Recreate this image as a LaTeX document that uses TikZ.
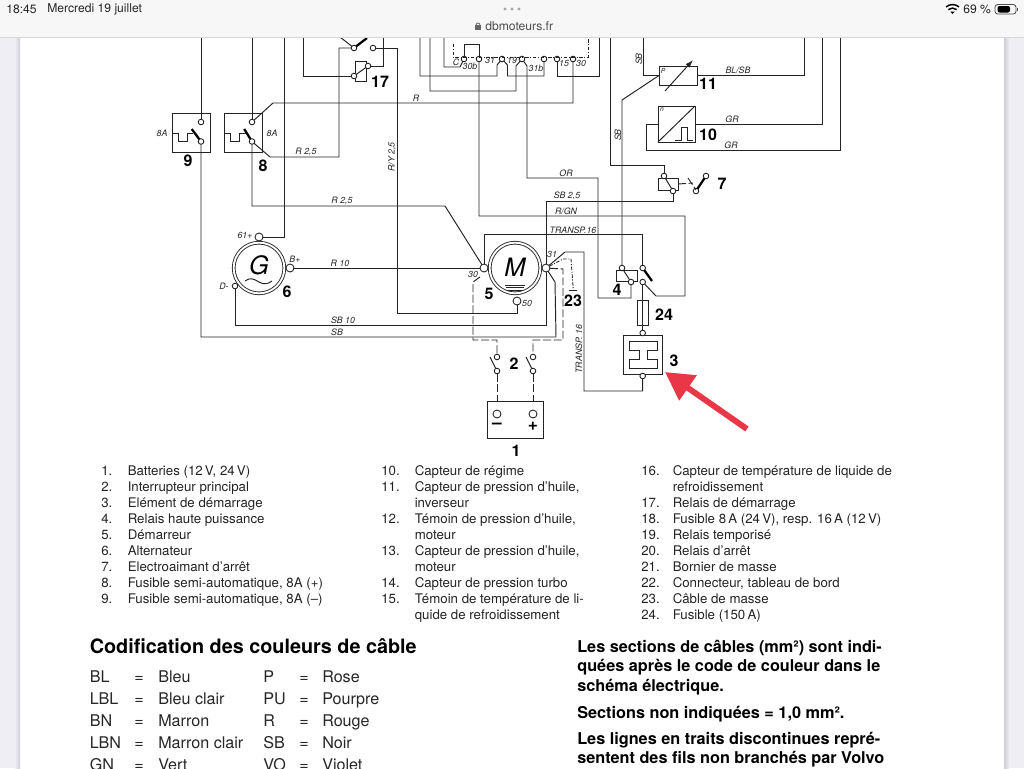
\documentclass[tikz,border=0pt]{standalone}
\usepackage{fontspec}
\usetikzlibrary{arrows.meta}
\setmainfont{TeX Gyre Heros}
\definecolor{wire}{RGB}{35,35,35}
\definecolor{arrowred}{RGB}{232,56,72}
\definecolor{barback}{RGB}{247,247,247}
\definecolor{legendtext}{RGB}{35,35,35}
\definecolor{gutter}{RGB}{238,238,244}
\definecolor{guttershade}{RGB}{205,205,212}

\begin{document}
\begin{tikzpicture}[x=0.75pt,y=-0.75pt]
	\useasboundingbox (0,0) rectangle (1024,768);
	\clip (0,0) rectangle (1024,768);
	\tikzset{TerminalStyle/.style = {circle,
									draw = wire,
									fill = white,
									line width = 0.65pt,
									inner sep = 0pt,
									outer sep = 0pt,
									minimum size = 4.2pt}}
	\tikzset{PostStyle/.style = {TerminalStyle,
									minimum size = 6pt}}
	\tikzset{BoxStyle/.style 2 args = {rectangle,
									draw = wire,
									line width = 0.72pt,
									inner sep = 0pt,
									outer sep = 0pt,
									minimum width = #1*0.75pt,
									minimum height = #2*0.75pt}}
	\tikzset{MachineStyle/.style = {circle,
									draw = wire,
									double,
									double distance = 1.4pt,
									line width = 0.65pt,
									inner sep = 0pt,
									outer sep = 0pt,
									minimum size = 38pt}}
	\tikzset{WireStyle/.style = {draw = wire, line width = 0.72pt}}
	\tikzset{BladeStyle/.style = {draw = black, line width = 1.7pt}}
	\tikzset{DashStyle/.style = {WireStyle, dash pattern = on 6pt off 2pt}}
	\tikzset{DotStyle/.style = {WireStyle, line width = 0.65pt, dash pattern = on 2.6pt off 1.2pt on 0.8pt off 1.2pt}}
	\tikzset{WireLabel/.style = {text = wire, inner sep = 0pt, font = \fontsize{6.6}{8}\selectfont\itshape}}
	\tikzset{PartLabel/.style = {text = black, inner sep = 0pt, font = \fontsize{12}{14}\selectfont\bfseries}}
	\tikzset{LegendStyle/.style = {text = legendtext, inner sep = 0pt, anchor = base west, font = \fontsize{9.95}{12}\selectfont}}
	\tikzset{CodeStyle/.style = {text = black!85, inner sep = 0pt, anchor = base west, font = \fontsize{12.1}{14}\selectfont}}
	\tikzset{NoteStyle/.style = {text = black, inner sep = 0pt, anchor = base west, font = \fontsize{12.2}{14}\selectfont\bfseries}}
	\tikzset{BarStyle/.style = {text = black!85, inner sep = 0pt, font = \fontsize{9.1}{10}\selectfont}}

	% page gutters
	\fill[gutter] (0,37) rectangle (20,768);
	\shade[left color = gutter, right color = guttershade] (15,37) rectangle (20,768);
	\fill[gutter] (1004,37) rectangle (1024,768);
	\shade[left color = guttershade, right color = gutter] (1004,37) rectangle (1009,768);

	% wires leaving the page at the top
	\coordinate (Top_a) at (201,37);
	\coordinate (Top_b) at (252,37);
	\coordinate (Top_c) at (284,37);
	\coordinate (Top_d) at (303,37);
	\coordinate (Top_s) at (340,37);
	\coordinate (Top_e) at (383,37);
	\coordinate (Top_f) at (420,37);
	\coordinate (Top_g) at (430,37);
	\coordinate (Top_h) at (444,37);
	\coordinate (Top_p) at (588,37);
	\coordinate (Top_i) at (599,37);
	\coordinate (Top_j) at (610,37);
	\coordinate (Top_k) at (643,37);
	\coordinate (Top_l) at (804,37);
	\coordinate (Top_m) at (822,37);
	\coordinate (Top_n) at (840,37);

	\node[BoxStyle={38}{39}] (B_9) at (191,132.5) {};
	\node[BoxStyle={38}{39}] (B_8) at (243.5,132.5) {};
	\node[BoxStyle={11}{20}] (B_17) at (361,71.5) {};
	\node[BoxStyle={38}{19}] (B_11) at (678,75.5) {};
	\node[BoxStyle={37}{36}] (B_10) at (676.5,124) {};
	\node[BoxStyle={20}{12}] (B_7) at (668,184) {};
	\node[BoxStyle={21}{11}] (B_4) at (626.5,275.5) {};
	\node[BoxStyle={11}{25}] (B_24) at (642.5,312.5) {};
	\node[BoxStyle={39}{39}] (B_3) at (642.5,354.5) {};
	\node[BoxStyle={56}{37}] (B_1) at (515,419.5) {};
	\node[MachineStyle] (G_6) at (259,268) {};
	\node[MachineStyle] (M_5) at (515,268) {};

	\node[TerminalStyle] (T_9a) at (201,122) {};
	\node[TerminalStyle] (T_9b) at (201,141.5) {};
	\node[TerminalStyle] (T_8a) at (252,122) {};
	\node[TerminalStyle] (T_8b) at (252,141.5) {};
	\node[TerminalStyle] (T_17a) at (354,48) {};
	\node[TerminalStyle] (T_17b) at (373,48) {};
	\node[TerminalStyle] (T_17c) at (354,76) {};
	\node[TerminalStyle] (T_17d) at (368,66) {};
	\node[TerminalStyle] (T_C) at (464,59) {};
	\node[TerminalStyle] (T_30b) at (479,59) {};
	\node[TerminalStyle] (T_31) at (502,59) {};
	\node[TerminalStyle] (T_19) at (522,59) {};
	\node[TerminalStyle] (T_31b) at (544,59) {};
	\node[TerminalStyle] (T_15) at (557,59) {};
	\node[TerminalStyle] (T_30) at (573,59) {};
	\node[TerminalStyle] (T_7a) at (664,176) {};
	\node[TerminalStyle] (T_7b) at (673,191) {};
	\node[TerminalStyle] (T_7c) at (696,191) {};
	\node[TerminalStyle] (T_7d) at (706,176) {};
	\node[TerminalStyle] (T_4a) at (622,268) {};
	\node[TerminalStyle] (T_4b) at (631,282) {};
	\node[TerminalStyle] (T_4c) at (642.7,282) {};
	\node[TerminalStyle] (T_4d) at (642.7,268) {};
	\node[TerminalStyle] (T_3a) at (642.7,333) {};
	\node[TerminalStyle] (T_3b) at (642.7,376) {};
	\node[TerminalStyle] (T_2a) at (497,357) {};
	\node[TerminalStyle] (T_2b) at (497,371) {};
	\node[TerminalStyle] (T_2c) at (533,357) {};
	\node[TerminalStyle] (T_2d) at (533,371) {};
	\node[TerminalStyle] (T_Dm) at (235,286) {};
	\node[PostStyle] (T_61) at (259,237) {};
	\node[PostStyle] (T_Bp) at (290,268) {};
	\node[PostStyle] (T_M30) at (484,268) {};
	\node[PostStyle] (T_M31) at (546,268) {};
	\node[PostStyle] (T_M50) at (517,301) {};
	\node[PostStyle] (T_Neg) at (497,414) {};
	\node[PostStyle] (T_Pos) at (533,414) {};

	\draw[WireStyle] (Top_a) -- (T_9a);
	\draw[WireStyle] (Top_b) -- (T_8a);
	\draw[WireStyle] (T_9b) |- (556,337) -- (555,282) -- (T_M31);
	\draw[WireStyle] (T_8a) -- (273,103) -| (T_30);
	\draw[WireStyle] (T_8b) -- (270,157) -- (339,157) |- (T_17a);
	\draw[WireStyle] (T_8b) |- (445,206) -- (T_M30);
	\draw[WireStyle] (Top_c) |- (T_61);
	\draw[WireStyle] (Top_d) |- (T_17c);
	\draw[WireStyle] (T_17c) -- (T_17d);
	\draw[WireStyle] (T_17d) -| (Top_e);
	\draw[WireStyle] (Top_s) -- (T_17a);
	\draw[WireStyle] (T_17b) -- (397,48) -- (397,313) -| (T_M50);
	\draw[WireStyle] (Top_f) |- (497,76) -- (497,65) -- (T_31);
	\draw[WireStyle] (T_31) -- (507.5,65) -- (507.5,76) -| (T_31b);
	\draw[WireStyle] (T_19) -- (516,66) -- (516,91) -| (Top_g);
	\draw[WireStyle] (T_19) -- (527,66) -- (527,178) -- (598,178) -- (598,298) -| (T_4b);
	\draw[WireStyle] (Top_h) |- (460,67) -- (T_C);
	\draw[WireStyle] (T_C) -- (464,44) -- (479,44) -- (T_30b);
	\draw[WireStyle] (T_30b) -- (479,216) -- (685,216) -- (685,296) -- (656,296) -- (T_4c);
	\draw[WireStyle] (T_15) -- (557,76) -| (Top_i);
	\draw[WireStyle] (T_M30) -- (484,234) -| (T_4d);
	\draw[WireStyle] (T_Bp) -- (T_M30);
	\draw[WireStyle] (T_7b) -- (673,201) -- (546,201) -- (T_M31);
	\draw[WireStyle] (T_M31) -- (546,325) -| (T_Dm);
	\draw[WireStyle] (T_M31) -- (565,252) -- (584,252) -- (584,391) -| (T_3b);
	\draw[WireStyle] (T_4a) -- (622,100) -- (B_11.west);
	\draw[WireStyle] (Top_k) |- (B_11.west);
	\draw[WireStyle] (B_11.east) -| (Top_l);
	\draw[WireStyle] (B_10.east) -| (Top_m);
	\draw[WireStyle] (B_10.west) -- (646,124) -- (646,150) -| (Top_n);
	\draw[WireStyle] (Top_j) -- (610,165) -| (T_7a);
	\draw[WireStyle] (T_7a) -- (T_7b);
	\draw[WireStyle] (T_4a) -- (T_4b);
	\draw[WireStyle] (T_4c) -- (T_3a);
	\draw[WireStyle] (T_2b) -- (490,357);
	\draw[WireStyle] (T_2d) -- (526,357);

	% dashed wires
	\draw[DashStyle] (T_M31) -- (563,269) -- (563,340) -- (533,340) -- (T_2c);
	\draw[DashStyle] (480,277) -- (473,282) -- (473,340) -- (497,340) -- (T_2a);
	\draw[DashStyle] (T_2b) -- (B_1.north -| T_2b);
	\draw[DashStyle] (T_2d) -- (B_1.north -| T_2d);
	\draw[DashStyle] (B_7.east) -- (693,183);
	\draw[DashStyle] (688,178) -- (696,190);
	\coordinate (Dash_a) at (453,44);
	\draw[DotStyle] (Dash_a) -- (453,57) -- (588,57) -- (Top_p);
	\coordinate (Gnd_23) at (573.3,290);
	\draw[DotStyle] (T_M31) -- (563,259) -- (571,259) -- (Gnd_23);
	\draw[WireStyle] (569,290) -- (577,290);

	% switch blades
	\draw[BladeStyle] (T_17a) -- (367,38);
	\draw[BladeStyle] (191.7,129) -- (T_9b);
	\draw[BladeStyle] (244.2,129) -- (T_8b);
	\draw[BladeStyle] (T_7c) -- (T_7d);
	\draw[BladeStyle] (T_4d) -- (652,281);
	\draw[WireStyle, -{Latex[length=6pt,width=4pt]}] (665,91) -- (693,60);

	% fuse elements
	\draw[WireStyle] (172,133) -- (178,133) -- (178,141) -- (187,141) -- (187,133) -- (193,133);
	\draw[WireStyle] (224.5,133) -- (230.5,133) -- (230.5,141) -- (239.5,141) -- (239.5,133) -- (245.5,133);
	\draw[WireStyle] (B_10.south west) -- (B_10.north east);
	\draw[WireStyle] (675,140) -- (681,140) -- (681,127) -- (687,127) -- (687,140) -- (693,140);
	\draw[WireStyle] (629,341) -- (657,341) -- (657,350) -- (647,350) -- (647,359) -- (657,359) -- (657,368) -- (629,368) -- (629,359) -- (639,359) -- (639,350) -- (629,350) -- cycle;
	\draw[WireStyle] (505,285) -- (525,285);
	\draw[WireStyle] (506,287.5) -- (524,287.5);
	\draw[WireStyle] (507,290) -- (523,290);
	\draw[WireStyle] (245,281) .. controls (250,277) and (254,279) .. (259,282) .. controls (264,285) and (268,284) .. (272,281);

	% machine and part texts
	\node[text = black, inner sep = 0pt, font = \fontsize{19}{22}\selectfont\itshape] (N_G) at (259,265) {G};
	\node[text = black, inner sep = 0pt, font = \fontsize{19}{22}\selectfont\itshape] (N_M) at (515,267) {M};
	\node[PartLabel] (N_1) at (516,451) {1};
	\node[PartLabel] (N_2) at (514,364) {2};
	\node[PartLabel] (N_3) at (674,361) {3};
	\node[PartLabel] (N_4) at (617,290) {4};
	\node[PartLabel] (N_5) at (489,294) {5};
	\node[PartLabel] (N_6) at (287,292) {6};
	\node[PartLabel] (N_7) at (722,184) {7};
	\node[PartLabel] (N_8) at (263,166) {8};
	\node[PartLabel] (N_9) at (188,161) {9};
	\node[PartLabel] (N_10) at (708,135) {10};
	\node[PartLabel] (N_11) at (708,84) {11};
	\node[PartLabel] (N_17) at (380,82) {17};
	\node[PartLabel] (N_23) at (573,301) {23};
	\node[PartLabel] (N_24) at (664,315) {24};
	\node[text = black, inner sep = 0pt, font = \fontsize{13}{14}\selectfont\bfseries] (N_Neg) at (497,426) {–};
	\node[text = black, inner sep = 0pt, font = \fontsize{13}{14}\selectfont\bfseries] (N_Pos) at (533,426) {+};

	\node[WireLabel] (L_a) at (162,133) {8A};
	\node[WireLabel] (L_b) at (272,133) {8A};
	\node[WireLabel] (L_c) at (416,98) {R};
	\node[WireLabel] (L_d) at (306,152) {R 2,5};
	\node[WireLabel] (L_e) at (342,201) {R 2,5};
	\node[WireLabel, rotate = 90] (L_f) at (392,157) {R/Y 2,5};
	\node[WireLabel] (L_g) at (566,173) {OR};
	\node[WireLabel] (L_h) at (567,196) {SB 2,5};
	\node[WireLabel] (L_i) at (566,211) {R/GN};
	\node[WireLabel] (L_j) at (573,230) {TRANSP.16};
	\node[WireLabel, rotate = 90] (L_k) at (579,349) {TRANSP. 16};
	\node[WireLabel] (L_l) at (340,263) {R 10};
	\node[WireLabel] (L_m) at (343,320) {SB 10};
	\node[WireLabel] (L_n) at (337,332) {SB};
	\node[WireLabel] (L_o) at (245,235) {61+};
	\node[WireLabel] (L_p) at (295,259) {B+};
	\node[WireLabel] (L_q) at (224,286) {D-};
	\node[WireLabel] (L_r) at (473,274) {30};
	\node[WireLabel] (L_s) at (552,254) {31};
	\node[WireLabel] (L_t) at (527,303) {50};
	\node[WireLabel] (L_u) at (456,62) {C};
	\node[WireLabel] (L_v) at (470,66) {30b};
	\node[WireLabel] (L_w) at (490,60) {31};
	\node[WireLabel] (L_x) at (512,60) {19};
	\node[WireLabel] (L_y) at (536,68) {31b};
	\node[WireLabel] (L_z) at (564,63) {15};
	\node[WireLabel] (L_aa) at (581,63) {30};
	\node[WireLabel, rotate = 90] (L_ab) at (639,59) {SB};
	\node[WireLabel, rotate = 90] (L_ac) at (618,135) {SB};
	\node[WireLabel] (L_ad) at (738,70) {BL/SB};
	\node[WireLabel] (L_ae) at (732,119) {GR};
	\node[WireLabel] (L_af) at (731,145) {GR};
	\node[WireLabel, font = \fontsize{5}{6}\selectfont\itshape] (L_ag) at (663,71) {P};
	\node[WireLabel, font = \fontsize{5}{6}\selectfont\itshape] (L_ah) at (662,110) {n};

	% red pointer
	\coordinate (Arrow_a) at (747,429);
	\coordinate (Arrow_b) at (665,372);
	\draw[arrowred, line width = 4.4pt, -{Triangle[length=21pt,width=22pt]}] (Arrow_a) -- (Arrow_b);

	% key of parts
	\node[LegendStyle] (K_1) at (101,475) {1.};
	\node[LegendStyle] (K_2) at (101,491) {2.};
	\node[LegendStyle] (K_3) at (101,507) {3.};
	\node[LegendStyle] (K_4) at (101,523) {4.};
	\node[LegendStyle] (K_5) at (101,539) {5.};
	\node[LegendStyle] (K_6) at (101,555) {6.};
	\node[LegendStyle] (K_7) at (101,571) {7.};
	\node[LegendStyle] (K_8) at (101,587) {8.};
	\node[LegendStyle] (K_9) at (101,603) {9.};
	\node[LegendStyle] (D_1) at (127.5,475) {Batteries (12\,V, 24\,V)};
	\node[LegendStyle] (D_2) at (127.5,491) {Interrupteur principal};
	\node[LegendStyle] (D_3) at (127.5,507) {Elément de démarrage};
	\node[LegendStyle] (D_4) at (127.5,523) {Relais haute puissance};
	\node[LegendStyle] (D_5) at (127.5,539) {Démarreur};
	\node[LegendStyle] (D_6) at (127.5,555) {Alternateur};
	\node[LegendStyle] (D_7) at (127.5,571) {Electroaimant d’arrêt};
	\node[LegendStyle] (D_8) at (127.5,587) {Fusible semi-automatique, 8A (+)};
	\node[LegendStyle] (D_9) at (127.5,603) {Fusible semi-automatique, 8A (–)};
	\node[LegendStyle] (K_10) at (381,475) {10.};
	\node[LegendStyle] (K_11) at (381,491) {11.};
	\node[LegendStyle] (K_12) at (381,523) {12.};
	\node[LegendStyle] (K_13) at (381,555) {13.};
	\node[LegendStyle] (K_14) at (381,587) {14.};
	\node[LegendStyle] (K_15) at (381,603) {15.};
	\node[LegendStyle] (D_10) at (414.5,475) {Capteur de régime};
	\node[LegendStyle] (D_11) at (414.5,491) {Capteur de pression d’huile,};
	\node[LegendStyle] (D_11b) at (414.5,507) {inverseur};
	\node[LegendStyle] (D_12) at (414.5,523) {Témoin de pression d’huile,};
	\node[LegendStyle] (D_12b) at (414.5,539) {moteur};
	\node[LegendStyle] (D_13) at (414.5,555) {Capteur de pression d’huile,};
	\node[LegendStyle] (D_13b) at (414.5,571) {moteur};
	\node[LegendStyle] (D_14) at (414.5,587) {Capteur de pression turbo};
	\node[LegendStyle] (D_15) at (414.5,603) {Témoin de température de li-};
	\node[LegendStyle] (D_15b) at (414.5,619) {quide de refroidissement};
	\node[LegendStyle] (K_16) at (641,475) {16.};
	\node[LegendStyle] (K_17) at (641,507) {17.};
	\node[LegendStyle] (K_18) at (641,523) {18.};
	\node[LegendStyle] (K_19) at (641,539) {19.};
	\node[LegendStyle] (K_20) at (641,555) {20.};
	\node[LegendStyle] (K_21) at (641,571) {21.};
	\node[LegendStyle] (K_22) at (641,587) {22.};
	\node[LegendStyle] (K_23) at (641,603) {23.};
	\node[LegendStyle] (K_24) at (641,619) {24.};
	\node[LegendStyle] (D_16) at (672.5,475) {Capteur de température de liquide de};
	\node[LegendStyle] (D_16b) at (672.5,491) {refroidissement};
	\node[LegendStyle] (D_17) at (672.5,507) {Relais de démarrage};
	\node[LegendStyle] (D_18) at (672.5,523) {Fusible 8\,A (24\,V), resp. 16\,A (12\,V)};
	\node[LegendStyle] (D_19) at (672.5,539) {Relais temporisé};
	\node[LegendStyle] (D_20) at (672.5,555) {Relais d’arrêt};
	\node[LegendStyle] (D_21) at (672.5,571) {Bornier de masse};
	\node[LegendStyle] (D_22) at (672.5,587) {Connecteur, tableau de bord};
	\node[LegendStyle] (D_23) at (672.5,603) {Câble de masse};
	\node[LegendStyle] (D_24) at (672.5,619) {Fusible (150\,A)};

	% colour codes
	\node[NoteStyle, font = \fontsize{14.85}{18}\selectfont\bfseries] (C_0) at (89.5,653) {Codification des couleurs de câble};
	\node[CodeStyle] (C_1) at (89.5,682) {BL};
	\node[CodeStyle] (C_2) at (89.5,704) {LBL};
	\node[CodeStyle] (C_3) at (89.5,726) {BN};
	\node[CodeStyle] (C_4) at (89.5,748) {LBN};
	\node[CodeStyle] (C_5) at (89.5,770) {GN};
	\node[CodeStyle] (E_1) at (134,682) {=};
	\node[CodeStyle] (E_2) at (134,704) {=};
	\node[CodeStyle] (E_3) at (134,726) {=};
	\node[CodeStyle] (E_4) at (134,748) {=};
	\node[CodeStyle] (E_5) at (134,770) {=};
	\node[CodeStyle] (F_1) at (158,682) {Bleu};
	\node[CodeStyle] (F_2) at (158,704) {Bleu clair};
	\node[CodeStyle] (F_3) at (158,726) {Marron};
	\node[CodeStyle] (F_4) at (158,748) {Marron clair};
	\node[CodeStyle] (F_5) at (158,770) {Vert};
	\node[CodeStyle] (C_6) at (263,682) {P};
	\node[CodeStyle] (C_7) at (263,704) {PU};
	\node[CodeStyle] (C_8) at (263,726) {R};
	\node[CodeStyle] (C_9) at (263,748) {SB};
	\node[CodeStyle] (C_10) at (263,770) {VO};
	\node[CodeStyle] (E_6) at (299,682) {=};
	\node[CodeStyle] (E_7) at (299,704) {=};
	\node[CodeStyle] (E_8) at (299,726) {=};
	\node[CodeStyle] (E_9) at (299,748) {=};
	\node[CodeStyle] (E_10) at (299,770) {=};
	\node[CodeStyle] (F_6) at (322,682) {Rose};
	\node[CodeStyle] (F_7) at (322,704) {Pourpre};
	\node[CodeStyle] (F_8) at (322,726) {Rouge};
	\node[CodeStyle] (F_9) at (322,748) {Noir};
	\node[CodeStyle] (F_10) at (322,770) {Violet};

	% notes
	\node[NoteStyle] (S_1) at (577,652) {Les sections de câbles (mm²) sont indi-};
	\node[NoteStyle] (S_2) at (577,671) {quées après le code de couleur dans le};
	\node[NoteStyle] (S_3) at (577,691) {schéma électrique.};
	\node[NoteStyle] (S_4) at (577,718) {Sections non indiquées = 1,0 mm².};
	\node[NoteStyle] (S_5) at (577,744) {Les lignes en traits discontinues repré-};
	\node[NoteStyle] (S_6) at (577,763) {sentent des fils non branchés par Volvo};

	% browser bar
	\fill[barback] (0,0) rectangle (1024,37);
	\draw[black!16, line width = 0.6pt] (0,37) -- (1024,37);
	\node[BarStyle, anchor = west] (Bar_a) at (6,9) {18:45};
	\node[BarStyle, anchor = west] (Bar_b) at (47,9) {Mercredi 19 juillet};
	\node[BarStyle, anchor = west] (Bar_c) at (963,9) {69 \%};
	\node[BarStyle, anchor = west, text = black!70] (Bar_d) at (485,26) {dbmoteurs.fr};
	\fill[black!35] (505,9) circle (1.6) (512,9) circle (1.6) (519,9) circle (1.6);
	\fill[black!60] (475,24.5) rectangle (481,30);
	\draw[black!60, line width = 0.6pt] (476,25) arc (180:360:2);
	\draw[black, line width = 1.1pt] (946.1,6.9) arc (230:310:10);
	\draw[black, line width = 1.1pt] (948.3,9.6) arc (230:310:6.5);
	\fill[black] (952.5,14) -- (950.3,11.6) -- (954.7,11.6) -- cycle;
	\draw[black!70, line width = 0.6pt, rounded corners = 2] (995,4.5) rectangle (1016,14);
	\fill[black, rounded corners = 1.5] (997.5,6) rectangle (1010,12.5);
	\fill[black!70] (1017,7.5) rectangle (1018,11);
\end{tikzpicture}
\end{document}
